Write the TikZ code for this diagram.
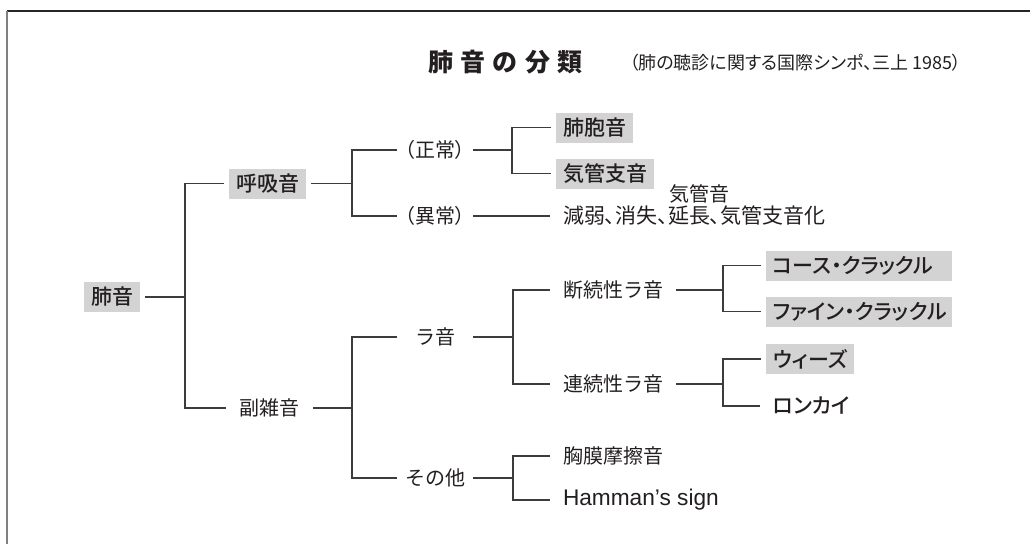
\documentclass[tikz,border=0pt]{standalone}
\usepackage{fontspec}
\setmainfont{Noto Sans CJK JP}
\newfontfamily\jpp{Noto Sans CJK JP}[RawFeature=+palt]
\newfontfamily\jpm{Noto Sans CJK JP Medium}[RawFeature=+palt]
\newfontfamily\latinf{Liberation Sans}
\definecolor{txt}{HTML}{231F20}
\definecolor{ln}{HTML}{3C3C3C}
\definecolor{boxgray}{HTML}{D3D3D3}
\begin{document}
\begin{tikzpicture}[x=0.75pt,y=-0.75pt,
  every node/.style={text=txt, font=\fontsize{15}{18}\selectfont},
  plain/.style={anchor=west, inner xsep=9.75pt, inner ysep=1pt, outer sep=0pt},
  mid/.style={anchor=center, inner sep=0pt, outer sep=0pt, minimum width=57pt},
  boxed/.style={anchor=west, fill=boxgray, inner xsep=5.25pt, inner ysep=0pt,
    minimum height=22.5pt, outer xsep=3.75pt, outer ysep=0pt,
    font=\fontsize{15.75}{18}\selectfont\jpm},
  widebox/.style={boxed, text width=129pt, align=left},
  conn/.style={draw=ln, line width=1pt}
]
\useasboundingbox (0,0) rectangle (1030,544);
% frame
\draw[draw=black!85, line width=1pt] (7,11) -- (1030,11);
\draw[draw=black!50, line width=1.5pt] (7,11) -- (7,544);

% title
\node (title) at (505.5,62) {\fontsize{18.75}{22}\selectfont\bfseries 肺\hspace{5.5pt}音\hspace{5.5pt}の\hspace{5.5pt}分\hspace{5.5pt}類};
\node (subtitle) at (795.5,63) {\fontsize{13.5}{16}\selectfont\jpp （肺の聴診に関する国際シンポ、三上 1985）};

% nodes
\node[boxed] (haion) at (79,297) {肺音};
\node[boxed] (kokyu) at (224,183.5) {呼吸音};
\node[mid, minimum width=65.25pt] (fuku) at (269.5,408) {副雑音};

\node[mid] (seijo) at (435,150) {\jpp （正常）};
\node[mid] (ijo) at (435,216) {\jpp （異常）};
\node[mid] (raon) at (435,337) {ラ音};
\node[mid] (sonota) at (435,478) {その他};

\node[boxed] (haiho) at (551,127.5) {肺胞音};
\node[boxed] (kikanshi) at (551,173.5) {気管支音};
\node (kikanon) at (699,194) {気管音};
\node[plain, font=\fontsize{15.75}{18}\selectfont\jpp] (genjaku) at (550,216) {減弱、消失、延長、気管支音化};

\node[plain] (danzoku) at (550,290) {断続性ラ音};
\node[plain] (renzoku) at (550,384) {連続性ラ音};
\node[plain] (kyomaku) at (550,456) {胸膜摩擦音};
\node[plain] (hamman) at (550,500) {\latinf\fontsize{17}{20}\selectfont Hamman’s sign};

\node[widebox] (coarse) at (761,265.5) {コース・クラックル};
\node[widebox] (fine) at (761,311.5) {ファイン・クラックル};
\node[boxed] (wheeze) at (761,359) {ウィーズ};
\node[plain, font=\fontsize{15.75}{18}\selectfont\jpm] (ronkai) at (760,406) {ロンカイ};

% junctions
\coordinate (j1) at (185,297);
\coordinate (j2) at (352,183.5);
\coordinate (j3) at (512,150);
\coordinate (j4) at (352,408);
\coordinate (j5) at (513,337);
\coordinate (j6) at (723,290);
\coordinate (j7) at (723,384);
\coordinate (j8) at (513,478);

% connectors
\draw[conn] (haion.east) -- (j1);
\draw[conn] (kokyu.west) -| (j1) |- (fuku.west);
\draw[conn] (kokyu.east) -- (j2);
\draw[conn] (seijo.west) -| (j2) |- (ijo.west);
\draw[conn] (seijo.east) -- (j3);
\draw[conn] (haiho.west) -| (j3) |- (kikanshi.west);
\draw[conn] (ijo.east) -- (genjaku.west);
\draw[conn] (fuku.east) -- (j4);
\draw[conn] (raon.west) -| (j4) |- (sonota.west);
\draw[conn] (raon.east) -- (j5);
\draw[conn] (danzoku.west) -| (j5) |- (renzoku.west);
\draw[conn] (danzoku.east) -- (j6);
\draw[conn] (coarse.west) -| (j6) |- (fine.west);
\draw[conn] (renzoku.east) -- (j7);
\draw[conn] (wheeze.west) -| (j7) |- (ronkai.west);
\draw[conn] (sonota.east) -- (j8);
\draw[conn] (kyomaku.west) -| (j8) |- (hamman.west);
\end{tikzpicture}
\end{document}
